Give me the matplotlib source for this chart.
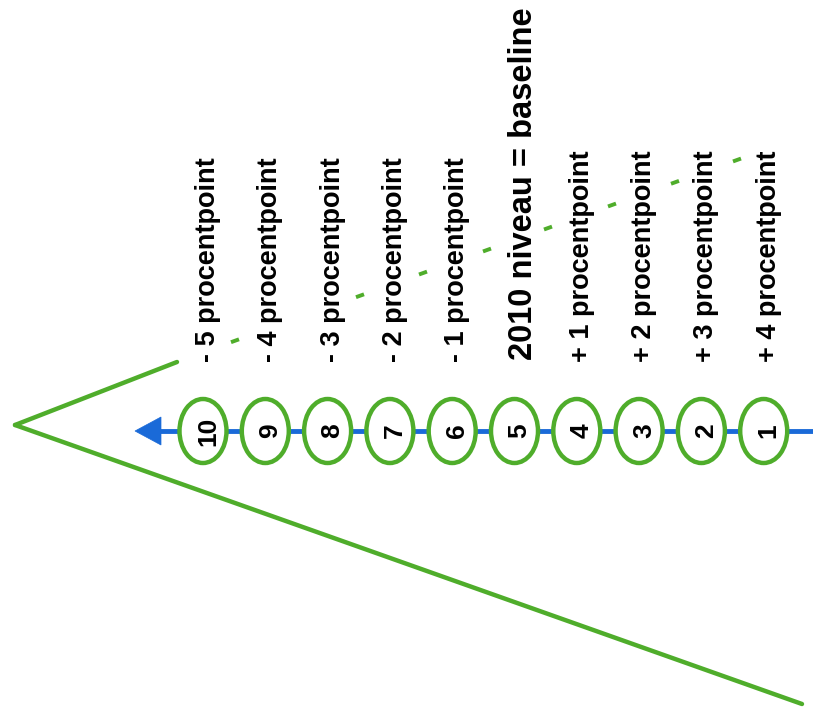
import matplotlib
matplotlib.use("Agg")
import matplotlib.pyplot as plt
from matplotlib.patches import Ellipse, Polygon

# ---- data ----
step_numbers = [10, 9, 8, 7, 6, 5, 4, 3, 2, 1]
step_labels = ["- 5 procentpoint", "- 4 procentpoint", "- 3 procentpoint",
               "- 2 procentpoint", "- 1 procentpoint", "2010 niveau = baseline",
               "+ 1 procentpoint", "+ 2 procentpoint", "+ 3 procentpoint",
               "+ 4 procentpoint"]
baseline_index = 5

# ---- style / layout ----
GREEN = "#4fad2b"
BLUE = "#1a6ad8"
plt.rcParams['font.family'] = ['Liberation Sans', 'DejaVu Sans']

W, H = 813, 722
fig = plt.figure(figsize=(W / 100, H / 100), dpi=100)
ax = fig.add_axes([0, 0, 1, 1])
ax.set_xlim(0, W)
ax.set_ylim(H, 0)
ax.axis('off')

x0, dx = 203, 62.3
axis_y = 431

# funnel lines
apex = (15, 425)
ax.plot([apex[0], 177], [apex[1], 362], color=GREEN, lw=3.2, solid_capstyle='round', zorder=2)
ax.plot([apex[0], 802], [apex[1], 704], color=GREEN, lw=3.2, solid_capstyle='round', zorder=2)

# dashed continuation of upper line
ds, de = (176, 362), (737, 160)
slope = (de[1] - ds[1]) / (de[0] - ds[0])
dash_x = [235, 360, 423, 487, 548, 612, 675, 737]
for xc in dash_x:
    yc = ds[1] + slope * (xc - ds[0])
    h = 4
    ax.plot([xc - h, xc + h], [yc - slope * h, yc + slope * h], color=GREEN, lw=2.8,
            solid_capstyle='butt', zorder=2)

# blue axis with arrow
ax.plot([158, W], [axis_y, axis_y], color=BLUE, lw=3.5, zorder=1)
ax.add_patch(Polygon([(135, axis_y), (161, axis_y - 14), (161, axis_y + 14)],
                     closed=True, fc=BLUE, ec=BLUE, lw=0.5, zorder=3))

# ellipses with numbers
for i, n in enumerate(step_numbers):
    cx = x0 + i * dx
    ax.add_patch(Ellipse((cx, axis_y), 47, 64, fc='white', ec=GREEN, lw=3.2, zorder=4))
    ax.text(cx + 5, axis_y, str(n), rotation=90, ha='center', va='center',
            fontsize=19, fontweight='bold', color='black', zorder=5)

# labels
for i, lab in enumerate(step_labels):
    cx = x0 + i * dx
    if i == baseline_index:
        ax.text(cx + 9, 360, lab, rotation=90, ha='center', va='bottom',
                fontsize=23.5, fontweight='bold', color='black', zorder=5)
    else:
        ax.text(cx + 5, 362, lab, rotation=90, ha='center', va='bottom',
                fontsize=19.5, fontweight='bold', color='black', zorder=5)

fig.savefig("out.png", dpi=100)
